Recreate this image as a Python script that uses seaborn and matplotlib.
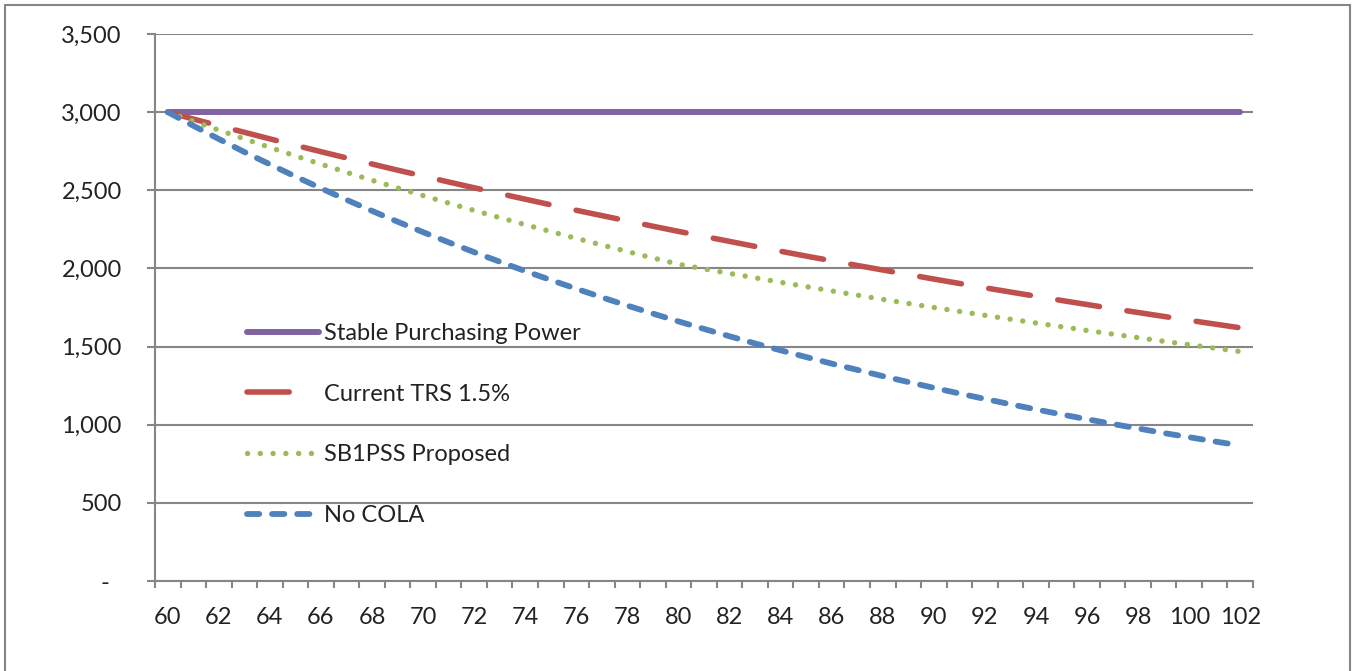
import matplotlib
matplotlib.use("Agg")
import matplotlib.pyplot as plt
import seaborn as sns
from matplotlib.patches import Rectangle
from matplotlib.ticker import FixedLocator

# Datos (edad 60..102)
ages = list(range(60, 103))

stable_power = [3000] * len(ages)

current_trs = [3000, 2956, 2913, 2871, 2829, 2788, 2747, 2707, 2668, 2629,
               2591, 2553, 2516, 2479, 2443, 2407, 2372, 2338, 2304, 2270,
               2237, 2205, 2173, 2141, 2110, 2079, 2049, 2019, 1990, 1961,
               1932, 1904, 1876, 1849, 1822, 1795, 1769, 1743, 1718, 1693,
               1668, 1644, 1620]

sb1pss = [3000, 2942, 2885, 2829, 2774, 2720, 2667, 2615, 2564, 2515,
          2466, 2418, 2371, 2325, 2280, 2236, 2192, 2150, 2108, 2067,
          2027, 1997, 1968, 1940, 1911, 1884, 1856, 1829, 1802, 1776,
          1750, 1725, 1700, 1675, 1651, 1627, 1603, 1580, 1557, 1534,
          1512, 1490, 1468]

no_cola = [3000, 2913, 2828, 2745, 2666, 2588, 2513, 2439, 2368, 2299,
           2232, 2167, 2104, 2043, 1983, 1926, 1870, 1815, 1762, 1711,
           1661, 1613, 1566, 1520, 1476, 1433, 1391, 1351, 1311, 1273,
           1236, 1200, 1165, 1131, 1098, 1066, 1035, 1005, 976, 947,
           920, 893, 867]

y_ticks = [0, 500, 1000, 1500, 2000, 2500, 3000, 3500]
y_labels = ["-  ", "500", "1,000", "1,500", "2,000", "2,500", "3,000", "3,500"]
x_ticks = list(range(60, 103, 2))

sns.set_style("white")
plt.rcParams['font.family'] = ['Lato', 'DejaVu Sans']

gray = '#868686'
txt = '#222222'
fs = 17

fig = plt.figure(figsize=(13.54, 6.71), dpi=100)
ax = fig.add_axes([155 / 1354, 1 - 581 / 671, 1098 / 1354, 547 / 671])

# marco exterior
fig.patches.append(Rectangle((5 / 1354, -0.05), 1345 / 1354, 1.05 - 5 / 671,
                             transform=fig.transFigure, fill=False,
                             edgecolor=gray, lw=1.5))

sns.lineplot(x=ages, y=stable_power, color='#8064A2', lw=4.3,
             label='Stable Purchasing Power', ax=ax)
sns.lineplot(x=ages, y=current_trs, color='#C0504D', lw=4,
             linestyle=(0, (7.6, 5.0)), dash_capstyle='round',
             label='Current TRS 1.5%', ax=ax)
sns.lineplot(x=ages, y=sb1pss, color='#9BBB59', lw=3.9,
             linestyle=(0, (0.01, 2.35)), dash_capstyle='round',
             label='SB1PSS Proposed', ax=ax)
sns.lineplot(x=ages, y=no_cola, color='#4F81BD', lw=4.2,
             linestyle=(0, (2.1, 2.2)), dash_capstyle='round',
             label='No COLA', ax=ax)

ax.set_xlim(59.5, 102.5)
ax.set_ylim(0, 3500)
ax.set_yticks(y_ticks)
ax.set_yticklabels(y_labels)
ax.set_xticks(x_ticks)
ax.set_xticklabels([str(a) for a in x_ticks])
ax.xaxis.set_minor_locator(FixedLocator([59.5 + k for k in range(44)]))

ax.grid(axis='y', color=gray, lw=1.5)
ax.set_axisbelow(True)
for s in ['top', 'right']:
    ax.spines[s].set_visible(False)
for s in ['left', 'bottom']:
    ax.spines[s].set_color(gray)
    ax.spines[s].set_linewidth(1.5)

ax.tick_params(axis='y', which='major', left=True, length=6, width=1.5,
               color=gray, pad=18, labelsize=fs, labelcolor=txt)
ax.tick_params(axis='x', which='major', bottom=True, length=0, pad=19,
               labelsize=fs, labelcolor=txt)
ax.tick_params(axis='x', which='minor', bottom=True, length=5, width=1.5,
               color=gray)
ax.set_xlabel('')
ax.set_ylabel('')

leg = ax.legend(loc='center left',
                bbox_to_anchor=(92 / 1098, (581 - 424.5) / 547),
                frameon=False, fontsize=fs, labelspacing=1.68,
                handlelength=3.05, handletextpad=0.21, borderpad=0,
                borderaxespad=0, labelcolor=txt)
# en la leyenda la linea roja muestra un solo trazo
leg.get_lines()[1].set_linestyle((0, (7.6, 8.0)))

fig.savefig('out.png', dpi=100)
